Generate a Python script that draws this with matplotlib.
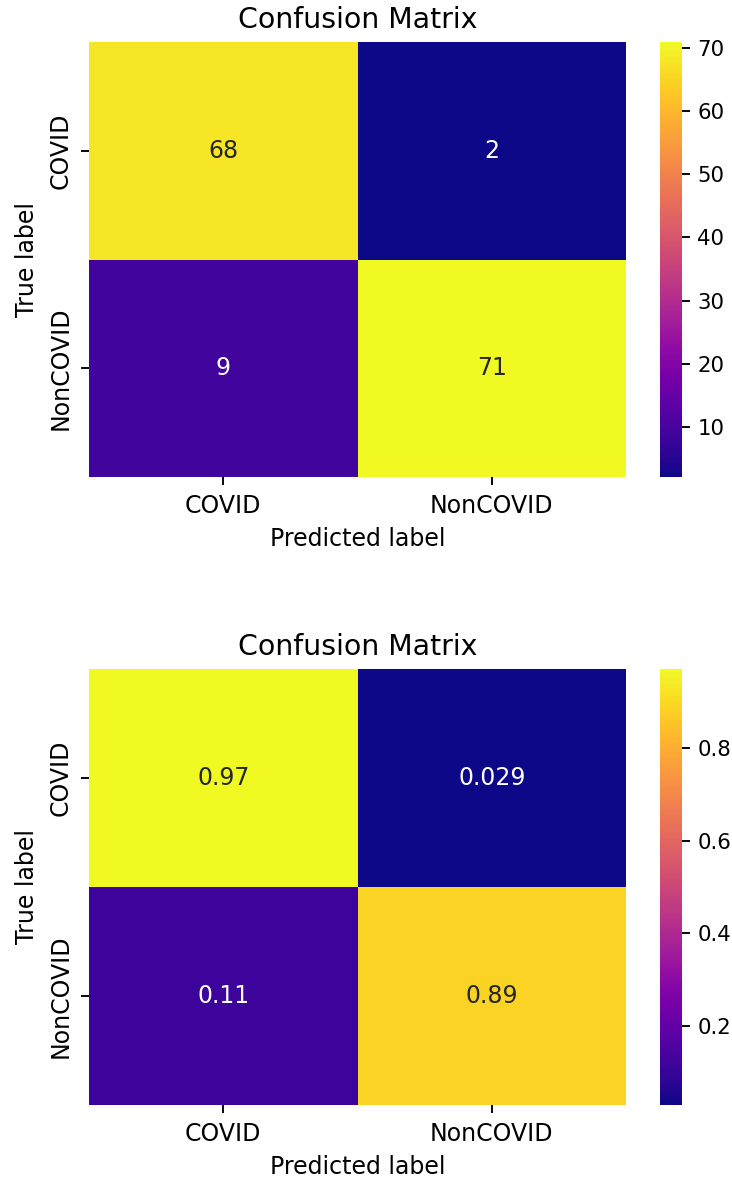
import matplotlib
matplotlib.use("Agg")
import matplotlib.pyplot as plt
import numpy as np

labels = ["COVID", "NonCOVID"]
counts = np.array([[68, 2], [9, 71]])
rates = np.array([[0.9714, 0.0286], [0.1125, 0.8875]])
count_ticks = [10, 20, 30, 40, 50, 60, 70]
rate_ticks = [0.2, 0.4, 0.6, 0.8]

dpi = 170
fig = plt.figure(figsize=(732 / dpi, 1184 / dpi), dpi=dpi)


def heatmap(ax, cax, data, fmt, cticks):
    vmin, vmax = data.min(), data.max()
    cmap = plt.get_cmap("plasma")
    mesh = ax.pcolormesh(data, cmap=cmap, vmin=vmin, vmax=vmax)
    ax.set_xlim(0, data.shape[1])
    ax.set_ylim(data.shape[0], 0)
    for i in range(data.shape[0]):
        for j in range(data.shape[1]):
            v = data[i, j]
            rgb = np.array(cmap((v - vmin) / (vmax - vmin))[:3])
            lum = 0.2126 * rgb[0] + 0.7152 * rgb[1] + 0.0722 * rgb[2]
            color = ".15" if lum > 0.408 else "w"
            ax.text(j + 0.5, i + 0.5, format(v, fmt), ha="center", va="center",
                    color=color, fontsize=10)
    ax.set_xticks(np.arange(len(labels)) + 0.5)
    ax.set_xticklabels(labels)
    ax.set_yticks(np.arange(len(labels)) + 0.5)
    ax.set_yticklabels(labels, rotation=90, va="center")
    for s in ax.spines.values():
        s.set_visible(False)
    ax.set_title("Confusion Matrix", fontsize=12)
    ax.set_xlabel("Predicted label")
    ax.set_ylabel("True label")
    cb = fig.colorbar(mesh, cax=cax)
    cb.outline.set_visible(False)
    cb.set_ticks(cticks)
    cb.ax.tick_params(labelsize=9, pad=3)


ax1 = fig.add_axes([0.1216, 0.5971, 0.7336, 0.3674])
cax1 = fig.add_axes([0.9016, 0.5971, 0.030, 0.3674])
heatmap(ax1, cax1, counts, "d", count_ticks)

ax2 = fig.add_axes([0.1216, 0.0667, 0.7336, 0.3683])
cax2 = fig.add_axes([0.9016, 0.0667, 0.030, 0.3683])
heatmap(ax2, cax2, rates, ".2g", rate_ticks)

fig.savefig("out.png", dpi=dpi)
